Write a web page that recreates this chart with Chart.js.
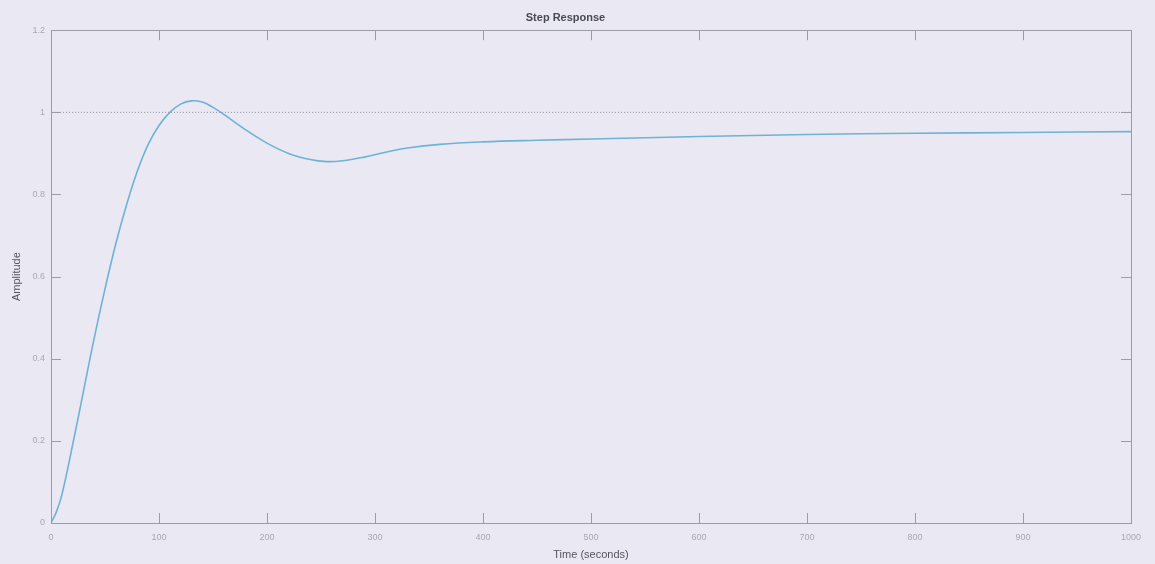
<!DOCTYPE html>
<html>
<head>
<meta charset="utf-8">
<script src="https://cdn.jsdelivr.net/npm/chart.js@4"></script>
<style>
  html, body { margin: 0; padding: 0; background: #eae9f3; }
  #wrap { width: 1155px; height: 564px; }
</style>
</head>
<body>
<div id="wrap"><canvas id="c" width="1155" height="564"></canvas></div>
<script>
// Step response samples
const timeValues = [0, 5, 10, 20, 30, 40, 50, 60, 70, 80, 90, 100, 110, 120, 130, 140, 150, 160, 180, 200, 220, 240, 255, 270, 290, 310, 330, 360, 400, 450, 500, 600, 700, 800, 900, 1000];
const amplitudeValues = [0, 0.027, 0.068, 0.19, 0.32, 0.45, 0.57, 0.68, 0.775, 0.857, 0.922, 0.968, 1.0, 1.02, 1.028, 1.025, 1.012, 0.995, 0.958, 0.925, 0.9, 0.885, 0.880, 0.882, 0.891, 0.903, 0.913, 0.922, 0.928, 0.932, 0.935, 0.941, 0.946, 0.949, 0.951, 0.953];
const referenceLevel = [1, 1];
const referenceTimes = [0, 1000];
const xTickValues = [0, 100, 200, 300, 400, 500, 600, 700, 800, 900, 1000];
const yTickValues = [0, 0.2, 0.4, 0.6, 0.8, 1, 1.2];

const responsePoints = timeValues.map((t, i) => ({ x: t, y: amplitudeValues[i] }));
const refPoints = referenceTimes.map((t, i) => ({ x: t, y: referenceLevel[i] }));

const frameAndTicks = {
  id: 'frameAndTicks',
  afterDatasetsDraw(chart) {
    const { ctx, chartArea: a, scales } = chart;
    ctx.save();
    ctx.strokeStyle = '#9c9ca8';
    ctx.lineWidth = 1;
    ctx.strokeRect(Math.round(a.left) + 0.5, Math.round(a.top) + 0.5, Math.round(a.right - a.left), Math.round(a.bottom - a.top));
    const L = 10;
    ctx.beginPath();
    xTickValues.forEach(v => {
      const px = Math.round(scales.x.getPixelForValue(v)) + 0.5;
      ctx.moveTo(px, a.bottom); ctx.lineTo(px, a.bottom - L);
      ctx.moveTo(px, a.top); ctx.lineTo(px, a.top + L);
    });
    yTickValues.forEach(v => {
      const py = Math.round(scales.y.getPixelForValue(v)) + 0.5;
      ctx.moveTo(a.left, py); ctx.lineTo(a.left + L, py);
      ctx.moveTo(a.right, py); ctx.lineTo(a.right - L, py);
    });
    ctx.stroke();
    ctx.restore();
  }
};

new Chart(document.getElementById('c'), {
  type: 'scatter',
  data: {
    datasets: [
      {
        label: 'ref',
        data: refPoints,
        showLine: true,
        borderColor: '#8f8f9a',
        borderWidth: 1,
        borderDash: [1, 2],
        pointRadius: 0,
        order: 2
      },
      {
        label: 'Step',
        data: responsePoints,
        showLine: true,
        borderColor: '#6eb2d4',
        borderWidth: 1.6,
        pointRadius: 0,
        tension: 0.4,
        order: 1
      }
    ]
  },
  options: {
    responsive: false,
    animation: false,
    layout: { padding: { left: 0, right: 24, top: 0, bottom: 0 } },
    plugins: {
      legend: { display: false },
      tooltip: { enabled: false },
      title: {
        display: true,
        text: 'Step Response',
        color: '#4a4a55',
        font: { family: 'Liberation Sans, Arial, sans-serif', size: 11, weight: 'bold' },
        padding: { top: 11, bottom: 6 }
      }
    },
    scales: {
      x: {
        type: 'linear',
        min: 0, max: 1000,
        afterFit(s) { s.height = 41; },
        afterBuildTicks(s) { s.ticks = xTickValues.map(v => ({ value: v })); },
        grid: { display: false, drawTicks: false },
        border: { display: false },
        ticks: {
          color: '#a8a8b2',
          font: { family: 'Liberation Sans, Arial, sans-serif', size: 9 },
          padding: 9,
          maxRotation: 0,
          callback: v => String(v)
        },
        title: {
          display: true,
          text: 'Time (seconds)',
          color: '#55555f',
          font: { family: 'Liberation Sans, Arial, sans-serif', size: 11 },
          padding: { top: 0, bottom: 2 }
        }
      },
      y: {
        type: 'linear',
        min: 0, max: 1.2,
        afterFit(s) { s.width = 51; },
        afterBuildTicks(s) { s.ticks = yTickValues.map(v => ({ value: v })); },
        grid: { display: false, drawTicks: false },
        border: { display: false },
        ticks: {
          color: '#a8a8b2',
          font: { family: 'Liberation Sans, Arial, sans-serif', size: 9 },
          padding: 6,
          callback: v => String(Math.round(v * 10) / 10)
        },
        title: {
          display: true,
          text: 'Amplitude',
          color: '#55555f',
          font: { family: 'Liberation Sans, Arial, sans-serif', size: 11 },
          padding: { top: 10, bottom: 0 }
        }
      }
    }
  },
  plugins: [frameAndTicks]
});
</script>
</body>
</html>
